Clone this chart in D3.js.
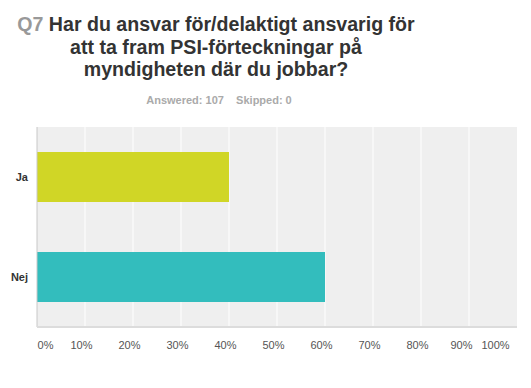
<!DOCTYPE html>
<html>
<head>
<meta charset="utf-8">
<script src="https://cdn.jsdelivr.net/npm/d3@7"></script>
<style>
body { margin: 0; background: #fff; }
svg { font-family: "Liberation Sans", Arial, sans-serif; }
</style>
</head>
<body>
<svg width="531" height="388"></svg>
<script>
// data
var categories = ["Ja", "Nej"];
var percents = [40, 60];
var barColors = ["#d0d626", "#33bdbd"];
var tickValues = [0, 10, 20, 30, 40, 50, 60, 70, 80, 90, 100];
var titleLines = ["Har du ansvar för/delaktigt ansvarig för", "att ta fram PSI-förteckningar på", "myndigheten där du jobbar?"];
var qLabel = "Q7";
var answered = 107;
var skipped = 0;

var svg = d3.select("svg");

var margin = {top: 127, left: 37, right: 14, bottom: 61};
var width = 531 - margin.left - margin.right;
var height = 388 - margin.top - margin.bottom;

// title
var title = svg.append("text")
    .attr("text-anchor", "middle")
    .attr("font-size", "19.6px")
    .attr("font-weight", "bold")
    .attr("fill", "#333");

titleLines.forEach(function(line, i)
{
    var t = title.append("tspan")
        .attr("x", 216)
        .attr("y", 31 + i * 22.5);
    if (i == 0)
    {
        t.append("tspan").attr("fill", "#999").text(qLabel + " ");
    }
    t.append("tspan").text(line);
});

svg.append("text")
    .attr("x", 219)
    .attr("y", 104)
    .attr("text-anchor", "middle")
    .attr("font-size", "11px")
    .attr("font-weight", "bold")
    .attr("fill", "#aaa")
    .attr("xml:space", "preserve")
    .text("Answered: " + answered + "    Skipped: " + skipped);

var g = svg.append("g").attr("transform", "translate(" + margin.left + "," + margin.top + ")");

var xScale = d3.scaleLinear().domain([0, 100]).range([0, width]);
var yScale = d3.scaleBand().domain(categories).range([0, height])
    .paddingInner(0.5).paddingOuter(0.25);

g.append("rect")
    .attr("width", width)
    .attr("height", height)
    .attr("fill", "#efefef");

// vertical grid
g.selectAll(".grid").data(tickValues.slice(1, -1)).enter().append("line")
    .attr("x1", function(d){ return xScale(d); })
    .attr("x2", function(d){ return xScale(d); })
    .attr("y1", 0)
    .attr("y2", height)
    .attr("stroke", "#fff")
    .attr("stroke-width", 1);

g.selectAll(".bar").data(percents).enter().append("rect")
    .attr("x", 0)
    .attr("y", function(d, i){ return yScale(categories[i]); })
    .attr("width", function(d){ return xScale(d); })
    .attr("height", yScale.bandwidth())
    .attr("fill", function(d, i){ return barColors[i]; });

// axis lines
g.append("line")
    .attr("x1", 0).attr("x2", 0)
    .attr("y1", 0).attr("y2", height)
    .attr("stroke", "#c8c8c8");
g.append("line")
    .attr("x1", 0).attr("x2", width)
    .attr("y1", height).attr("y2", height)
    .attr("stroke", "#dcdcdc")
    .attr("stroke-width", 2);

// category labels
g.selectAll(".cat").data(categories).enter().append("text")
    .attr("x", -9)
    .attr("y", function(d){ return yScale(d) + yScale.bandwidth() / 2; })
    .attr("dy", "0.35em")
    .attr("text-anchor", "end")
    .attr("font-size", "11px")
    .attr("font-weight", "bold")
    .attr("fill", "#333")
    .text(function(d){ return d; });

// x axis labels
var xAxis = d3.axisBottom(xScale)
    .tickValues(tickValues)
    .tickSize(0)
    .tickPadding(14)
    .tickFormat(function(d){ return d + "%"; });

var axisG = g.append("g")
    .attr("transform", "translate(0," + height + ")")
    .call(xAxis);
axisG.select(".domain").remove();
axisG.selectAll("text")
    .attr("font-family", "Liberation Sans, Arial, sans-serif")
    .attr("font-size", "11px")
    .attr("fill", "#555")
    .attr("dx", function(d){
        if (d == 0) return 8;
        if (d == 100) return -22;
        if (d == 90) return -8;
        return -4;
    });
</script>
</body>
</html>
